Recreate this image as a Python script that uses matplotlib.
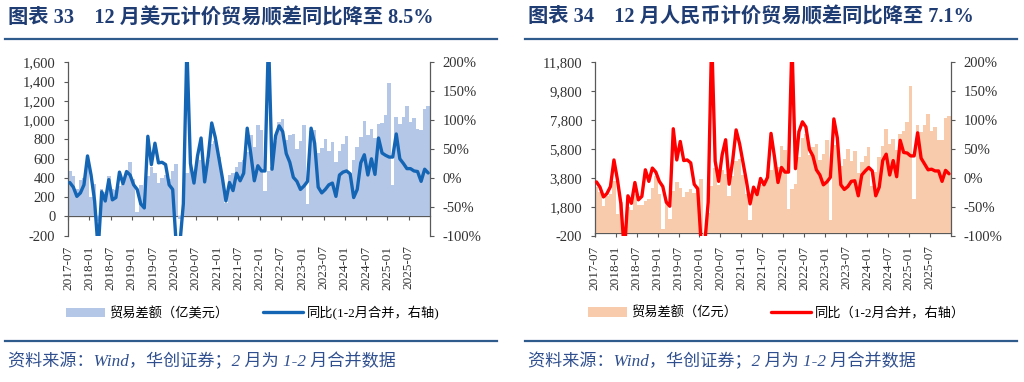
import numpy as np
import matplotlib
matplotlib.use('Agg')
from matplotlib import pyplot as plt
from matplotlib.lines import Line2D
from matplotlib.ticker import FuncFormatter

plt.rcParams['font.family'] = ['Liberation Serif', 'Noto Sans CJK SC']
plt.rcParams['axes.unicode_minus'] = False

# 月度数据 2017-07 ~ 2025-12
tick_labels = ['2017-07', '2018-01', '2018-07', '2019-01', '2019-07', '2020-01',
               '2020-07', '2021-01', '2021-07', '2022-01', '2022-07', '2023-01',
               '2023-07', '2024-01', '2024-07', '2025-01', '2025-07']

# 贸易差额（亿美元）
usd_balance = [467, 420, 285, 381, 402, 547,
               203, 337, -50, 287, 249, 416, 280, 279, 317, 340, 448, 570,
               392, 41, 326, 138, 417, 510, 450, 348, 396, 428, 387, 467,
               540, -30, 199, 453, 629, 464, 623, 589, 370, 584, 754, 781,
               620, 410, 138, 428, 455, 515, 565, 583, 668, 845, 717, 944,
               900, 260, 473, 511, 787, 979, 1013, 793, 847, 852, 698, 780,
               950, 130, 882, 902, 658, 706, 806, 683, 771, 565, 683, 753,
               830, 450, 585, 723, 826, 990, 846, 910, 817, 957, 974, 1048,
               1388, 325, 1027, 961, 1032, 1148, 982, 1023, 905, 901, 1116, 1142]

# 同比（%）
usd_yoy = [-8, -16, -32, -26, -12, 38,
           5, -40, -125, -24, -40, -3, -38, -34, 10, -10, 11, 5,
           -12, -20, -45, -52, 72, 23, 60, 26, 27, 23, -12, -20,
           -116, -116, -45, 228, 25, -9, 38, 69, -7, 36, 95, 70,
           35, 0, -40, -8, -22, 8, -5, 8, 86, 42, -5, 21,
           12, 12, 243, 15, 73, 90, 80, 42, 27, 1, -6, -20,
           -14, -6, 86, 60, -16, -26, -20, -12, -9, -32, 5, 10,
           12, 7, -34, -20, 26, 40, 5, 33, 6, 69, 43, 39,
           36, 36, 76, 33, 25, 16, 16, 12, 11, -6, 15, 8.5]

# 贸易差额（亿元）
cny_balance = [3152, 2801, 1881, 2526, 2657, 3605,
               1299, 2130, -316, 1808, 1589, 2692, 1896, 1911, 2171, 2349, 3109, 3922,
               2658, 276, 2191, 929, 2861, 3509, 3096, 2457, 2804, 3026, 2721, 3269,
               3742, -150, 1403, 3207, 4466, 3285, 4361, 4082, 2520, 3913, 4976, 5108,
               4011, 2653, 900, 2782, 2926, 3332, 3656, 3778, 4315, 5408, 4582, 6013,
               5724, 1648, 3004, 3347, 5265, 6559, 6828, 5400, 5929, 6134, 5005, 5437,
               6441, 897, 6086, 6242, 4619, 5083, 5803, 4965, 5628, 4130, 4904, 5346,
               5959, 3236, 4206, 5234, 5980, 7197, 6117, 6479, 5760, 6823, 7032, 7650,
               10132, 2369, 7456, 7006, 7430, 8231, 7051, 7314, 6444, 6415, 7924, 8062]

cny_yoy = [-7, -16, -33, -27, -15, 31,
           -3, -45, -130, -31, -44, -8, -38, -32, 14, -6, 17, 10,
           -6, -15, -42, -49, 85, 31, 63, 30, 31, 26, -11, -19,
           -115, -115, -42, 245, 29, -6, 40, 66, -11, 29, 83, 59,
           26, -7, -45, -16, -29, -1, -12, 1, 77, 36, -8, 18,
           10, 10, 234, 16, 80, 97, 88, 49, 38, 14, 5, -12,
           -7, 1, 102, 69, -12, -20, -15, -6, -5, -31, 5, 12,
           18, 12, -31, -16, 30, 41, 5, 30, 2, 65, 44, 43,
           38, 38, 78, 34, 24, 14, 15, 12, 12, -6, 13, 7.1]

usd_yticks = list(range(-200, 1601, 200))
cny_yticks = list(range(-200, 11801, 2000))
pct_ticks = list(range(-100, 201, 50))

NAVY = '#1F3C73'
RULE = '#2E5A8C'
AXC = '#595959'
TXT = '#333333'


def draw_panel(ax, bars, yoy, bar_color, line_color, yticks, legend_labels):
    x = np.arange(len(bars))
    bc = ax.bar(x, bars, width=1.0, color=bar_color, linewidth=0)
    ax.set_xlim(-0.5, len(bars) - 0.5)
    ax.set_ylim(yticks[0], yticks[-1])
    ax.set_yticks(yticks)
    ax.yaxis.set_major_formatter(FuncFormatter(lambda v, p: f'{v:,.0f}'))
    ax.tick_params(axis='y', length=3, width=0.8, color=AXC, pad=6,
                   labelsize=10.5, labelcolor=TXT)

    # 标签在下方，坐标轴线放在0处
    tick_pos = np.arange(0, len(bars), 6) - 0.5
    tick_pos = tick_pos[:len(tick_labels)]
    ax.set_xticks(tick_pos, tick_labels, rotation=90)
    ax.tick_params(axis='x', length=0, pad=7, labelsize=9.5, labelcolor=TXT)
    zero_loc = (0 - yticks[0]) / (yticks[-1] - yticks[0])
    sec = ax.secondary_xaxis(zero_loc)
    sec.set_xticks(tick_pos)
    sec.tick_params(axis='x', length=3, width=0.8, color=AXC, labelbottom=False)
    sec.spines['bottom'].set_color(AXC)
    sec.spines['bottom'].set_linewidth(0.9)

    for s in ['top', 'right', 'bottom']:
        ax.spines[s].set_visible(False)
    ax.spines['left'].set_color(AXC)
    ax.spines['left'].set_linewidth(0.9)

    ax2 = ax.twinx()
    ln, = ax2.plot(x, yoy, color=line_color, lw=2.4,
                   solid_joinstyle='round', solid_capstyle='round')
    ax2.set_ylim(pct_ticks[0], pct_ticks[-1])
    ax2.set_yticks(pct_ticks)
    ax2.yaxis.set_major_formatter(FuncFormatter(lambda v, p: f'{v:.0f}%'))
    ax2.tick_params(axis='y', length=3, width=0.8, color=AXC, pad=6,
                    labelsize=10.5, labelcolor=TXT)
    for s in ['top', 'left', 'bottom']:
        ax2.spines[s].set_visible(False)
    ax2.spines['right'].set_color(AXC)
    ax2.spines['right'].set_linewidth(0.9)

    ax.legend([bc, ln], legend_labels, loc='center', bbox_to_anchor=(0.51, -0.446),
              ncol=2, frameon=False, handlelength=3.0, handletextpad=0.3,
              columnspacing=2.6, prop={'size': 9.5})


fig = plt.figure(figsize=(10.24, 3.82), dpi=100)

ax_l = fig.add_axes([0.0664, 0.383, 0.3535, 0.454])
draw_panel(ax_l, usd_balance, usd_yoy, '#B4C7E7', '#1565B5', usd_yticks,
           ['贸易差额（亿美元）', '同比(1-2月合并，右轴)'])

ax_r = fig.add_axes([0.5808, 0.383, 0.3477, 0.454])
draw_panel(ax_r, cny_balance, cny_yoy, '#F8CBAD', '#FF0000', cny_yticks,
           ['贸易差额（亿元）', '同比（1-2月合并，右轴）'])

# 标题、分隔线、资料来源
titles = ['图表 33　12 月美元计价贸易顺差同比降至 8.5%',
          '图表 34　12 月人民币计价贸易顺差同比降至 7.1%']
for x0, x1, title in [(0.005, 0.485, titles[0]), (0.513, 0.993, titles[1])]:
    fig.text(x0 + 0.003, 0.953, title, fontsize=14.6, fontweight='bold',
             color=NAVY, ha='left', va='center')
    fig.add_artist(Line2D([x0, x1], [0.898, 0.898], transform=fig.transFigure,
                          color=RULE, lw=1.6))
    fig.add_artist(Line2D([x0, x1], [0.107, 0.107], transform=fig.transFigure,
                          color=RULE, lw=1.6))
    fig.text(x0 + 0.003, 0.053, '资料来源：Wind，华创证券；2 月为 1-2 月合并数据',
             fontsize=12.3, style='italic', color='#2F4F8F', ha='left', va='center')

fig.savefig('out.png', dpi=100)
